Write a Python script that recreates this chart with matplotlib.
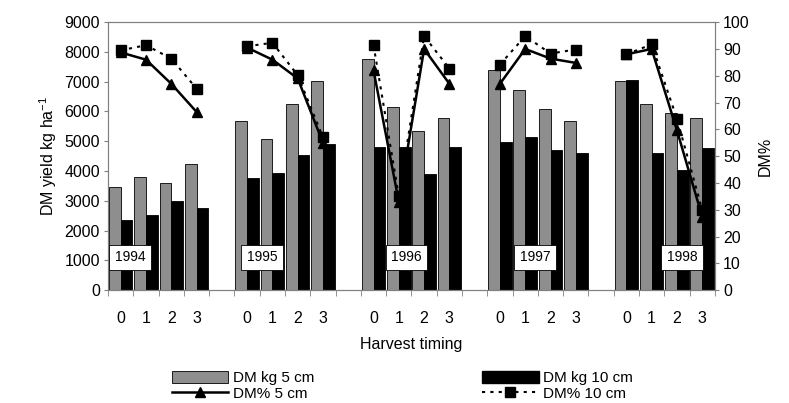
import numpy as np
import matplotlib
matplotlib.use("Agg")
import matplotlib.pyplot as plt
from matplotlib.lines import Line2D
from matplotlib.patches import Patch

plt.rcParams['font.family'] = ['Liberation Sans', 'DejaVu Sans']
plt.rcParams['mathtext.default'] = 'regular'

years = ['1994', '1995', '1996', '1997', '1998']
timing = ['0', '1', '2', '3']

# DM yield (kg/ha), 4 harvest timings per year
dm_5cm = [3450, 3800, 3600, 4250,
          5690, 5070, 6240, 7020,
          7750, 6140, 5340, 5770,
          7410, 6720, 6070, 5690,
          7020, 6240, 5960, 5790]
dm_10cm = [2350, 2540, 2990, 2770,
           3750, 3920, 4535, 4900,
           4815, 4815, 3900, 4815,
           4980, 5130, 4700, 4590,
           7055, 4590, 4050, 4760]

# DM %
pct_5cm = [88.7, 86, 77, 66.5,
           90.5, 86, 79, 55,
           82, 33, 90, 77,
           77, 90, 86.4, 84.8,
           88, 90, 59.7, 27.4]
pct_10cm = [89.5, 91.4, 86.4, 75.2,
            91, 92.3, 80.2, 57,
            91.4, 35, 94.8, 82.7,
            84.2, 94.8, 88.3, 89.8,
            88, 91.7, 64, 30]

# label box positions (category units) for the year tags
year_x = [0.37, 5.6, 11.3, 16.4, 22.2]


def spread(vals):
    # put a blank category between the years
    out = []
    for i in range(len(years)):
        out += list(vals[i*4:(i+1)*4])
        if i < len(years) - 1:
            out.append(np.nan)
    return np.array(out, dtype=float)


g5 = spread(dm_5cm)
g10 = spread(dm_10cm)
p5 = spread(pct_5cm)
p10 = spread(pct_10cm)
x = np.arange(len(g5))
labels = []
for i in range(len(years)):
    labels += timing
    if i < len(years) - 1:
        labels.append('')

fig = plt.figure(figsize=(7.89, 4.03), dpi=100)
ax = fig.add_axes([0.137, 0.280, 0.769, 0.665])
w = 0.465
ax.bar(x - w/2, g5, w, color='#8e8e8e', edgecolor='black', linewidth=0.6)
ax.bar(x + w/2, g10, w, color='black', edgecolor='black', linewidth=0.6)
ax.set_xlim(-0.5, len(x) - 0.5)
ax.set_ylim(0, 9000)
ax.set_yticks(np.arange(0, 9001, 1000))
ax.set_xticks(x)
ax.set_xticklabels(labels)
ax.set_xticks(np.arange(-0.5, len(x), 1), minor=True)
ax.tick_params(axis='x', which='major', length=0, pad=15, labelsize=11.5)
ax.tick_params(axis='x', which='minor', length=4, color='#808080')
ax.tick_params(axis='y', length=3, color='#808080', labelsize=11.5, pad=3)
ax.set_xlabel('Harvest timing', fontsize=11.5, labelpad=8)
ax.set_ylabel('DM yield kg ha$^{-1}$', fontsize=11.5, labelpad=4)
for s in ax.spines.values():
    s.set_color('#808080')

for yr, xp in zip(years, year_x):
    ax.text(xp, 1100, yr, ha='center', va='center', fontsize=10,
            bbox=dict(boxstyle='square,pad=0.4', fc='white', ec='black', lw=0.6),
            zorder=5)

ax2 = ax.twinx()
ax2.plot(x, p5, color='black', lw=1.8, marker='^', ms=6.5)
ax2.plot(x, p10, color='black', lw=1.5, ls=(0, (1.5, 2.5)), marker='s', ms=7.5)
ax2.set_ylim(0, 100)
ax2.set_yticks(np.arange(0, 101, 10))
ax2.tick_params(axis='y', length=3, color='#808080', labelsize=11.5, pad=3)
ax2.set_ylabel('DM%', fontsize=11.5, labelpad=6)
for s in ax2.spines.values():
    s.set_color('#808080')

handles = [
    Patch(facecolor='#8e8e8e', edgecolor='black', linewidth=0.6),
    Line2D([], [], color='black', lw=1.8, marker='^', ms=6.5),
    Patch(facecolor='black', edgecolor='black'),
    Line2D([], [], color='black', lw=1.5, ls=(0, (1.5, 2.5)), marker='s', ms=7.5),
]
names = ['DM kg 5 cm', 'DM% 5 cm', 'DM kg 10 cm', 'DM% 10 cm']
fig.legend(handles, names, loc='center', bbox_to_anchor=(0.51, 0.042), ncol=2,
           frameon=False, fontsize=11, handlelength=3.7, handleheight=0.75,
           columnspacing=11, labelspacing=0.1, handletextpad=0.3)

fig.savefig('out.png', dpi=100)
